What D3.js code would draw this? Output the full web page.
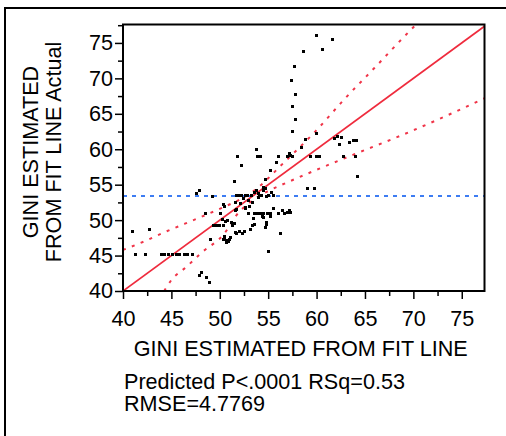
<!DOCTYPE html>
<html>
  <head>
    <meta charset="UTF-8">
    <title>Actual by Predicted</title>
    <script src="https://d3js.org/d3.v7.min.js"></script>
    <style>
      body { margin: 0; background: #fff; }
      text { font-family: "Liberation Sans", Arial, sans-serif; }
    </style>
  </head>

  <body>
    <div class="chart"></div>

    <script type="application/javascript">
      // predicted (x) and actual (y) values
      const predX = [
        40.97, 41.2, 42.3, 42.7,
        43.9, 44.2, 44.6, 45.1, 45.5, 45.8, 46.3, 46.6, 47.1,
        47.5, 47.9, 49.2, 48.45, 49.0,
        47.9, 48.1, 48.6, 48.9,
        49.3, 49.6, 49.9, 50.3,
        50.0, 50.2, 50.3, 50.4,
        50.3, 50.4, 50.6, 50.8, 51.0,
        51.2, 51.3, 51.45, 50.75, 50.5,
        51.55, 51.7, 52.0, 52.3, 52.5,
        51.45, 51.8, 52.2, 51.65, 51.55,
        51.7, 51.9, 52.2, 52.6, 52.8,
        52.4, 52.6, 52.9, 53.1, 53.3, 53.45,
        52.9, 53.3,
        53.7, 53.8, 54.0, 54.2,
        53.2, 53.5, 53.7, 53.9, 54.1, 54.3, 54.5, 54.7, 53.9, 55.0, 55.5, 54.8,
        54.5, 54.65, 55.2, 55.3,
        54.8, 54.65, 55.0, 55.2, 55.45, 54.5,
        53.5, 53.8, 54.15, 54.5, 54.85, 55.2, 56.0, 56.4, 56.6, 56.9, 57.1, 57.3,
        55.8, 56.0, 56.2,
        57.65, 57.4, 57.8, 57.5, 57.8, 57.5, 59.9, 61.55, 58.55, 60.6, 59.9, 58.8, 58.4,
        56.9, 57.1, 57.3, 57.5, 59.3, 59.9, 60.3, 62.7, 64.0,
        61.8, 62.1, 62.5, 62.35, 63.3, 63.8, 64.1, 64.2, 58.97, 59.7,
        53.5, 54.4, 54.75, 52.1, 52.6, 53.0, 51.6, 50.45, 50.7, 51.1
      ];
      const actualY = [
        48.5, 45.2, 45.2, 48.7,
        45.2, 45.2, 45.2, 45.2, 45.2, 45.2, 45.2, 45.2, 45.2,
        53.8, 54.2, 53.4, 51.0, 47.3,
        42.3, 42.7, 42.0, 41.2,
        49.25, 49.25, 49.25, 49.25,
        51.0, 50.1, 52.3, 52.0,
        47.3, 47.8, 46.95, 47.0, 47.3,
        49.8, 49.3, 49.6, 50.0, 49.9,
        48.35, 48.2, 48.5, 48.2, 48.5,
        55.5, 59.1, 57.8, 51.5, 52.6,
        53.5, 53.5, 53.5, 53.5, 53.5,
        53.1, 51.8, 51.0, 48.8, 49.3, 50.3,
        52.8, 52.6,
        60.0, 59.1, 59.1, 59.1,
        53.5, 53.9, 54.2, 53.8, 53.5, 53.5, 54.2, 54.5, 53.3, 53.5, 53.5, 53.4,
        54.7, 55.75, 57.1, 54.0,
        49.5, 49.0, 45.7, 50.6, 51.7, 50.5,
        51.0, 51.0, 51.0, 51.0, 51.0, 51.0, 51.0, 51.4, 51.0, 51.2, 51.4, 51.1,
        58.2, 59.1, 48.2,
        71.8, 69.8, 67.8, 66.1, 64.3, 62.55, 76.1, 75.6, 73.8, 74.1, 62.3, 61.5, 60.35,
        59.1, 59.4, 59.2, 59.1, 59.1, 59.1, 59.1, 59.1, 59.1,
        61.6, 61.85, 61.75, 60.8, 61.05, 61.3, 61.3, 56.25, 54.56, 54.56,
        49.4, 50.6, 49.8, 52.4, 51.65, 52.0, 51.4, 47.4, 47.2, 47.65
      ];

      // fitted line (actual = predicted) and mean of actual
      const fitX = [40, 77.35];
      const fitY = [40, 77.35];
      const meanY = 53.4;

      // confidence curves
      const upperX = [40, 42.2, 44.3, 46.4, 48.5, 50.5, 52, 52.7, 53.4, 54.2, 55, 56.2, 57.6, 59.9, 62.9, 66, 70, 70.3];
      const upperY = [45.8, 47.0, 48.3, 49.5, 50.7, 51.9, 52.85, 53.37, 54.0, 54.89, 55.9, 57.55, 59.4, 62.55, 67.1, 71.5, 77.2, 77.6];
      const lowerX = [44.25, 45, 46.55, 48.2, 50.35, 52, 52.7, 53.4, 54.2, 55, 57, 60, 64.1, 68.3, 72.4, 77.35];
      const lowerY = [40, 41.55, 43.4, 45.5, 47.9, 51.15, 52.03, 52.8, 53.51, 54.1, 55.34, 57.1, 59.4, 61.7, 64.1, 67.2];

      const majorTicks = [40, 45, 50, 55, 60, 65, 70, 75];
      const minorTicks = [42.5, 47.5, 52.5, 57.5, 62.5, 67.5, 72.5, 77.5];

      const xTitle = "GINI ESTIMATED FROM FIT LINE";
      const yTitle = ["GINI ESTIMATED", "FROM FIT LINE Actual"];
      const stats = ["Predicted P<.0001 RSq=0.53", "RMSE=4.7769"];

      const width = 506, height = 436;
      const pL = 123, pR = 484.5, pT = 24.5, pB = 291;
      const fontSize = 21.6;

      const svg = d3.select(".chart").append("svg")
              .attr("width", width)
              .attr("height", height)

      const x = d3.scaleLinear().domain([40, 77.35]).range([pL, pR]);
      const y = d3.scaleLinear().domain([40, 77.6]).range([pB, pT]);

      // outer frame (cut at right and bottom)
      svg.append("path")
              .attr("d", `M5,${height} L5,8 L${width},8`)
              .attr("fill", "none")
              .attr("stroke", "#000")
              .attr("stroke-width", 2)

      svg.append("clipPath").attr("id", "plot")
              .append("rect")
              .attr("x", pL).attr("y", pT)
              .attr("width", pR - pL).attr("height", pB - pT)

      const plot = svg.append("g").attr("clip-path", "url(#plot)")

      // mean line
      plot.append("line")
              .attr("x1", pL).attr("x2", pR)
              .attr("y1", y(meanY)).attr("y2", y(meanY))
              .attr("stroke", "#3d7cf2")
              .attr("stroke-width", 1.8)
              .attr("stroke-dasharray", "4,5")

      const line = d3.line()
              .x(d => x(d[0]))
              .y(d => y(d[1]))

      plot.append("path")
              .datum(d3.zip(fitX, fitY))
              .attr("d", line)
              .attr("fill", "none")
              .attr("stroke", "#ef2b3d")
              .attr("stroke-width", 1.7)

      const curve = d3.line()
              .x(d => x(d[0]))
              .y(d => y(d[1]))
              .curve(d3.curveMonotoneX)
      for (const [cx, cy] of [[upperX, upperY], [lowerX, lowerY]]) {
        plot.append("path")
                .datum(d3.zip(cx, cy))
                .attr("d", curve)
                .attr("fill", "none")
                .attr("stroke", "#f03448")
                .attr("stroke-width", 2)
                .attr("stroke-dasharray", "3,6.5")
      }

      // points
      plot.selectAll("rect.pt")
              .data(d3.zip(predX, actualY))
              .join("rect")
              .attr("class", "pt")
              .attr("x", d => Math.round(x(d[0])) - 1)
              .attr("y", d => Math.round(y(d[1])) - 1)
              .attr("width", 3)
              .attr("height", 3)
              .attr("fill", "#000")

      // axes
      function styleAxis(g) {
        g.select(".domain").remove()
        g.selectAll("line").attr("stroke", "#000").attr("stroke-width", 1.5)
        g.selectAll("text")
                .attr("fill", "#000")
                .style("font-size", fontSize + "px")
                .style("font-family", '"Liberation Sans", Arial, sans-serif')
      }

      svg.append("g")
              .attr("transform", `translate(0, ${pB})`)
              .call(d3.axisBottom(x).tickValues(majorTicks).tickSize(8).tickPadding(11.5).tickFormat(d3.format("d")))
              .call(styleAxis)
      svg.append("g")
              .attr("transform", `translate(0, ${pB})`)
              .call(d3.axisBottom(x).tickValues(minorTicks.filter(d => d <= 77.35)).tickSize(5).tickFormat(""))
              .call(styleAxis)
      svg.append("g")
              .attr("transform", `translate(${pL}, 0)`)
              .call(d3.axisLeft(y).tickValues(majorTicks).tickSize(8).tickPadding(2).tickFormat(d3.format("d")))
              .call(styleAxis)
      svg.append("g")
              .attr("transform", `translate(${pL}, 0)`)
              .call(d3.axisLeft(y).tickValues(minorTicks).tickSize(5).tickFormat(""))
              .call(styleAxis)

      // plot frame
      svg.append("rect")
              .attr("x", pL).attr("y", pT)
              .attr("width", pR - pL).attr("height", pB - pT)
              .attr("fill", "none")
              .attr("stroke", "#000")
              .attr("stroke-width", 2)

      // titles
      svg.append("text")
              .attr("x", (pL + pR) / 2 - 3)
              .attr("y", 356)
              .attr("text-anchor", "middle")
              .style("font-size", fontSize + "px")
              .text(xTitle)

      yTitle.forEach((t, i) => {
        svg.append("text")
                .attr("transform", `translate(${38 + i * 23}, 152) rotate(-90)`)
                .attr("text-anchor", "middle")
                .style("font-size", fontSize + "px")
                .text(t)
      })

      stats.forEach((t, i) => {
        svg.append("text")
                .attr("x", 124)
                .attr("y", 388.5 + i * 22.5)
                .style("font-size", fontSize + "px")
                .text(t)
      })
    </script>
  </body>

</html>
